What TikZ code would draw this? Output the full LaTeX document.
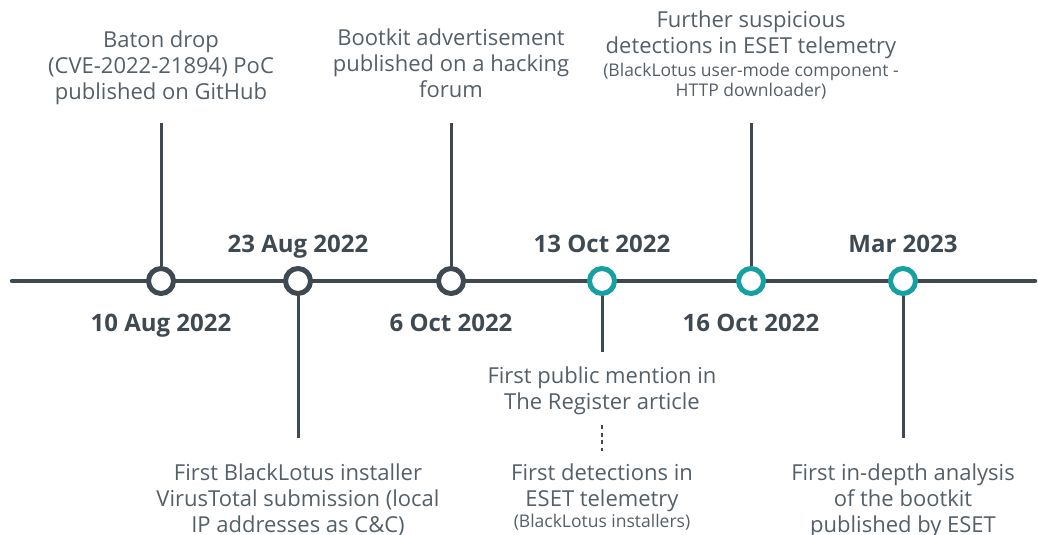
\documentclass[tikz,border=0pt]{standalone}
\usepackage{fontspec}
\setmainfont{Open Sans}
\usetikzlibrary{positioning,backgrounds}
\definecolor{slate}{HTML}{3E4952}
\definecolor{esetteal}{HTML}{17A0A2}
\definecolor{textgray}{HTML}{555F67}

\begin{document}
\begin{tikzpicture}[x=1pt,y=-1pt]
        \tikzset{dot/.style={circle,draw=slate,fill=white,line width=5pt,minimum size=25pt,inner sep=0pt},
            newdot/.style={dot,draw=esetteal},
            stem/.style={draw=slate,line width=3pt},
            axis/.style={draw=slate,line width=4.5pt,line cap=round},
            date/.style={font=\fontsize{24}{28}\selectfont\bfseries,text=slate,inner sep=0pt,anchor=base},
            event/.style={font=\fontsize{22}{26}\selectfont,text=textgray,align=center,inner sep=0pt,anchor=north},
            note/.style={font=\fontsize{17.5}{20}\selectfont,text=textgray,align=center,inner sep=0pt}}
        \useasboundingbox (0,0) rectangle (1038,535);
        \coordinate (tlstart) at (12,281);
        \coordinate (tlend) at (1035,281);
        \coordinate (stemtop) at (0,123);
        \coordinate (stemmid) at (0,352);
        \coordinate (stembot) at (0,438);
        % dates on the line
        \node[dot] (aug10) at (161,281) {};
        \node[dot] (aug23) at (298,281) {};
        \node[dot] (oct6) at (451,281) {};
        \node[newdot] (oct13) at (602,281) {};
        \node[newdot] (oct16) at (751,281) {};
        \node[newdot] (mar23) at (903,281) {};
        \begin{pgfonlayer}{background}
            \draw[axis] (tlstart) -- (tlend);
            \draw[stem] (aug10) -- (aug10 |- stemtop);
            \draw[stem] (aug23) -- (aug23 |- stembot);
            \draw[stem] (oct6) -- (oct6 |- stemtop);
            \draw[stem] (oct13) -- (oct13 |- stemmid);
            \draw[stem] (oct16) -- (oct16 |- stemtop);
            \draw[stem] (mar23) -- (mar23 |- stembot);
        \end{pgfonlayer}
        \node[date] (aug10date) at (161,331) {10 Aug 2022};
        \node[date] (aug23date) at (298,252) {23 Aug 2022};
        \node[date] (oct6date) at (451,331) {6 Oct 2022};
        \node[date] (oct13date) at (602,252) {13 Oct 2022};
        \node[date] (oct16date) at (751,331) {16 Oct 2022};
        \node[date] (mar23date) at (903,252) {Mar 2023};
        % events
        \node[event] (baton) at (161,30.5) {Baton drop\\(CVE-2022-21894) PoC\\published on GitHub};
        \node[event] (bootkit) at (451,29) {Bootkit advertisement\\published on a hacking\\forum};
        \node[event] (further) at (751,11) {Further suspicious\\detections in ESET telemetry};
        \node[note,below=4pt of further] (furthernote) {(BlackLotus user-mode component -\\HTTP downloader)};
        \node[event] (register) at (602,367) {First public mention in\\The Register article};
        \node[event] (detect) at (602,464) {First detections in\\ESET telemetry};
        \node[note,below=2pt of detect] (detectnote) {(BlackLotus installers)};
        \node[event] (virustotal) at (298,464) {First BlackLotus installer\\VirusTotal submission (local\\IP addresses as C\&C)};
        \node[event] (analysis) at (903,464) {First in-depth analysis\\of the bootkit\\published by ESET};
        \draw[stem,line width=2.5pt,dash pattern=on 4pt off 3.5pt,shorten <=10pt,shorten >=13pt] (register) -- (detect);
\end{tikzpicture}
\end{document}
